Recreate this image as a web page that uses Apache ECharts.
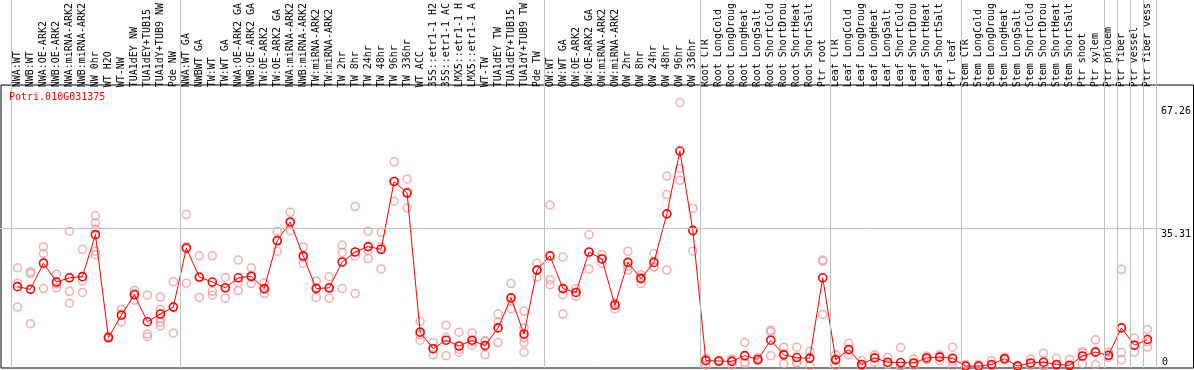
<!DOCTYPE html>
<html>
<head>
<meta charset="utf-8">
<script src="https://cdn.jsdelivr.net/npm/echarts@6/dist/echarts.min.js"></script>
<style>
html,body{margin:0;padding:0;background:#fff;}
#chart{width:1194px;height:370px;}
</style>
</head>
<body>
<div id="chart"></div>
<script>
const geneName = 'Potri.010G031375';

const categories = [
  'NWA:WT','NWB:WT','NWA:OE-ARK2','NWB:OE-ARK2','NWA:miRNA-ARK2','NWB:miRNA-ARK2','NW 0hr','WT H2O','WT-NW','TUA1dEY NW','TUA1dEY+TUB15','TUA1dY+TUB9 NW','Pde NW',
  'NWA:WT GA','NWBWT GA','TW:WT','TW:WT GA','NWA:OE-ARK2 GA','NWB:OE-ARK2 GA','TW:OE-ARK2','TW:OE-ARK2 GA','NWA:miRNA-ARK2','NWB:miRNA-ARK2','TW:miRNA-ARK2','TW:miRNA-ARK2',
  'TW 2hr','TW 8hr','TW 24hr','TW 48hr','TW 96hr','TW 336hr','WT ACC','35S::etr1-1 H2','35S::etr1-1 AC','LMX5::etr1-1 H','LMX5::etr1-1 A','WT-TW','TUA1dEY TW','TUA1dEY+TUB15','TUA1dY+TUB9 TW','Pde TW',
  'OW:WT','OW:WT GA','OW:OE-ARK2','OW:OE-ARK2 GA','OW:miRNA-ARK2','OW:miRNA-ARK2','OW 2hr','OW 8hr','OW 24hr','OW 48hr','OW 96hr','OW 336hr',
  'Root CTR','Root LongCold','Root LongDroug','Root LongHeat','Root LongSalt','Root ShortCold','Root ShortDrou','Root ShortHeat','Root ShortSalt','Ptr root',
  'Leaf CTR','Leaf LongCold','Leaf LongDroug','Leaf LongHeat','Leaf LongSalt','Leaf ShortCold','Leaf ShortDrou','Leaf ShortHeat','Leaf ShortSalt','Ptr leaf',
  'Stem CTR','Stem LongCold','Stem LongDroug','Stem LongHeat','Stem LongSalt','Stem ShortCold','Stem ShortDrou','Stem ShortHeat','Stem ShortSalt','Ptr shoot','Ptr xylem',
  'Ptr phloem','Ptr fiber','Ptr vessel','Ptr fiber vess'
];

// number of categories in each block separated by grey vertical lines
const groupSizes = [13, 28, 12, 10, 10, 11, 1, 1, 1, 1];

const meanValues = [
  20.7, 20.0, 26.8, 21.9, 23.0, 23.3, 34.2, 7.5, 13.3, 18.6, 11.6, 13.6, 15.4,
  30.7, 23.2, 21.9, 20.4, 23.0, 23.4, 20.2, 32.6, 37.5, 28.7, 20.2, 20.4,
  27.1, 29.7, 31.1, 30.4, 48.0, 45.0, 8.9, 4.6, 6.8, 5.3, 6.8, 5.4, 10.0, 17.8, 8.4, 25.0,
  28.7, 20.2, 19.2, 29.7, 27.9, 15.9, 27.0, 22.8, 27.0, 39.6, 55.9, 35.3,
  1.5, 1.4, 1.3, 2.8, 1.8, 6.8, 3.0, 2.3, 2.1, 23.0,
  1.7, 4.4, 0.5, 2.2, 1.1, 1.0, 0.9, 2.2, 2.4, 2.1,
  0.1, 0.1, 0.5, 2.0, 0.1, 0.9, 1.1, 0.5, 0.3, 2.7, 3.7,
  2.9, 10.0, 5.5, 7.0
];

const replicateValues = [
  [25.6, 21.6, 15.4], [24.6, 24.1, 11.1], [31.0, 29.3, 20.2], [23.9, 21.4, 20.4], [35.1, 19.5, 16.4],
  [30.4, 22.2, 19.2], [39.1, 37.2, 35.6, 29.9, 29.0], [7.3, 7.6, 7.8], [14.8, 13.6, 11.5], [19.7, 18.9, 17.2],
  [18.5, 8.4, 7.7], [18.0, 14.8, 12.4, 11.5, 10.5], [22.0, 15.5, 8.7],
  [39.4, 31.0, 21.6], [28.7, 23.0, 17.9], [28.7, 19.5, 18.5], [23.1, 20.4, 17.7], [27.6, 21.8, 19.7],
  [25.6, 23.1, 21.5], [21.7, 20.0, 18.9], [35.1, 32.8, 29.9], [40.0, 37.3, 35.2], [31.0, 28.3, 26.8],
  [22.2, 20.5, 17.9], [23.3, 20.2, 17.7],
  [31.5, 29.6, 20.2], [41.5, 28.6, 18.9], [35.1, 30.0, 28.0], [34.8, 31.0, 25.3], [53.1, 48.0, 42.9],
  [48.6, 45.3, 41.1], [11.7, 8.2, 6.8], [6.2, 4.6, 3.0], [10.7, 7.5, 2.8], [8.9, 4.4, 3.7],
  [8.7, 6.3, 5.5], [6.7, 6.5, 3.0], [13.6, 11.4, 6.2], [21.5, 17.0, 15.0], [14.3, 10.0, 7.5, 6.2, 3.7],
  [26.8, 25.0, 23.2],
  [41.9, 22.5, 21.2], [28.4, 18.6, 13.6], [20.2, 19.2, 18.2], [34.2, 29.6, 25.3], [29.0, 28.0, 26.8],
  [16.4, 16.4, 14.9], [29.9, 26.0, 25.0], [23.8, 23.1, 21.5], [29.3, 25.9, 25.8], [49.4, 44.6, 25.0],
  [68.5, 51.4, 48.3], [41.0, 35.0, 29.9],
  [2.1, 1.8, 0.3], [1.6, 1.4, 1.2], [1.9, 1.6, 0.3], [6.2, 1.1, 0.7], [2.3, 1.7, 1.5],
  [9.4, 9.0, 2.8], [5.0, 3.3, 0.7], [5.0, 1.1, 0.9], [3.9, 2.3, 0.1], [27.6, 27.3, 13.5],
  [3.0, 1.9, 0.2], [6.0, 4.2, 3.0], [1.5, 0.2, 0.0], [3.0, 2.4, 1.1], [2.3, 0.6, 0.5],
  [4.9, 0.2, 0.0], [1.9, 0.7, 0.1], [2.7, 2.2, 1.7], [3.0, 2.6, 1.5], [5.0, 1.3, 0.0],
  [0.5, 0.0, 0.0], [0.5, 0.0, 0.0], [1.5, 0.1, 0.0], [2.4, 2.0, 1.7], [0.3, 0.0, 0.0],
  [1.9, 0.6, 0.1], [3.4, 0.3, 0.0], [2.1, 0.0, 0.0], [1.8, 0.0, 0.0], [3.9, 3.5, 0.7],
  [6.9, 3.9, 0.5],
  [3.7, 2.8, 2.3], [25.2, 3.6, 1.7], [7.3, 5.5, 3.7], [9.6, 6.4, 5.0]
];

const yTickLabels = [0, 35.31, 67.26];
const gridLineValues = [35.31];

// ---- derived ----
const boundaries = [0];
groupSizes.forEach(s => boundaries.push(boundaries[boundaries.length - 1] + s));
const replicatePoints = [];
replicateValues.forEach((reps, i) => reps.forEach(v => replicatePoints.push([i, v])));

const Y_MIN = -0.41, Y_MAX = 71.93;
const FONT = 'DejaVu Sans Mono';
const PLOT = { left: 11, right: 38, top: 85, bottom: 2 };

const chart = echarts.init(document.getElementById('chart'), null, { renderer: 'canvas' });

const option = {
  animation: false,
  backgroundColor: '#fff',
  title: {
    text: geneName,
    left: 9, top: 92, padding: 0,
    textStyle: { color: '#ff0000', fontFamily: FONT, fontSize: 10, fontWeight: 'normal' }
  },
  grid: [
    { left: PLOT.left, right: PLOT.right, top: PLOT.top, bottom: PLOT.bottom },   // data
    { left: PLOT.left, right: PLOT.right, top: 0, bottom: PLOT.bottom },          // separators
    { left: 0, right: 32, top: PLOT.top, bottom: PLOT.bottom },                   // horizontal grid line
    { left: 1, right: 0.5, top: PLOT.top, bottom: PLOT.bottom, show: true,
      borderColor: '#000', borderWidth: 1, backgroundColor: 'transparent' }      // frame
  ],
  xAxis: [
    {
      gridIndex: 0, type: 'category', data: categories, position: 'top', boundaryGap: true,
      axisLine: { show: false }, axisTick: { show: false }, splitLine: { show: false },
      axisLabel: { interval: 0, rotate: 90, margin: 2, color: '#000', fontFamily: FONT, fontSize: 10 }
    },
    { gridIndex: 1, type: 'value', min: 0, max: categories.length, show: false, splitLine: { show: false } },
    { gridIndex: 2, type: 'value', min: 0, max: 1, show: false, splitLine: { show: false } },
    { gridIndex: 3, type: 'value', min: 0, max: 1, show: false, splitLine: { show: false } }
  ],
  yAxis: [
    {
      gridIndex: 0, type: 'value', position: 'right', min: Y_MIN, max: Y_MAX,
      axisLine: { show: false }, axisTick: { show: false }, splitLine: { show: false },
      axisLabel: {
        customValues: yTickLabels.filter(v => v !== 0),
        margin: 7, color: '#000', fontFamily: FONT, fontSize: 10, verticalAlign: 'top', lineHeight: 8,
        formatter: v => String(v)
      }
    },
    {
      gridIndex: 0, type: 'value', position: 'right', min: Y_MIN, max: Y_MAX,
      axisLine: { show: false }, axisTick: { show: false }, splitLine: { show: false },
      axisLabel: {
        customValues: yTickLabels.filter(v => v === 0),
        margin: 8, color: '#000', fontFamily: FONT, fontSize: 10, verticalAlign: 'bottom', lineHeight: 8,
        formatter: v => String(v)
      }
    },
    { gridIndex: 1, type: 'value', min: 0, max: 1, show: false, splitLine: { show: false } },
    { gridIndex: 2, type: 'value', min: Y_MIN, max: Y_MAX, show: false, splitLine: { show: false } },
    { gridIndex: 3, type: 'value', min: 0, max: 1, show: false, splitLine: { show: false } }
  ],
  series: [
    {
      type: 'line', xAxisIndex: 1, yAxisIndex: 2, data: [], silent: true, z: 1,
      markLine: {
        silent: true, symbol: ['none', 'none'], label: { show: false },
        lineStyle: { color: '#c0c0c0', type: 'solid', width: 1 },
        data: boundaries.map(b => ({ xAxis: b }))
      }
    },
    {
      type: 'line', xAxisIndex: 2, yAxisIndex: 3, data: [], silent: true, z: 1,
      markLine: {
        silent: true, symbol: ['none', 'none'], label: { show: false },
        lineStyle: { color: '#c0c0c0', type: 'solid', width: 1 },
        data: gridLineValues.map(v => ({ yAxis: v }))
      }
    },
    {
      type: 'scatter', xAxisIndex: 0, yAxisIndex: 0, data: replicatePoints, z: 3,
      symbol: 'circle', symbolSize: 8,
      itemStyle: { color: 'rgba(255,255,255,0)', borderColor: '#ec9c9c', borderWidth: 1.5 }
    },
    {
      type: 'line', xAxisIndex: 0, yAxisIndex: 0, data: meanValues, z: 4,
      symbol: 'circle', symbolSize: 8, showSymbol: true,
      lineStyle: { color: '#ff0000', width: 1 },
      itemStyle: { color: 'rgba(255,255,255,0)', borderColor: '#ff0000', borderWidth: 1.6 }
    }
  ]
};

chart.setOption(option);
</script>
</body>
</html>
